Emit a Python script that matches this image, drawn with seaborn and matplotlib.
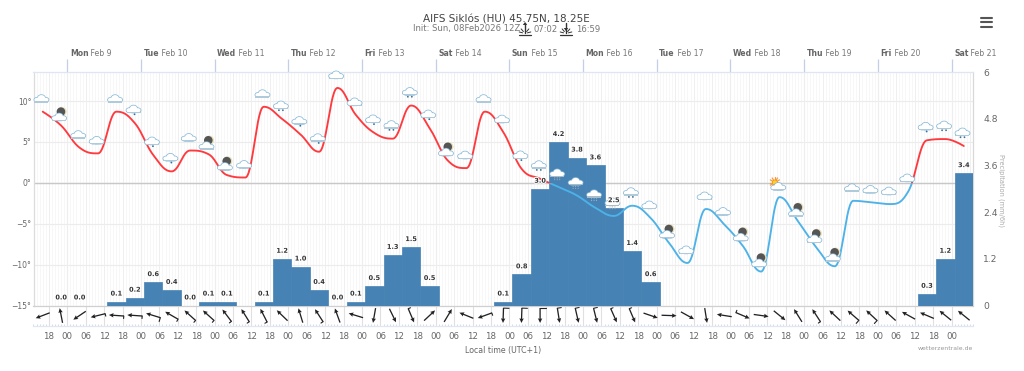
import matplotlib

matplotlib.use("Agg")
import matplotlib.patheffects as pe
import matplotlib.pyplot as plt
import numpy as np
import pandas as pd
import seaborn as sns
from matplotlib.lines import Line2D
from matplotlib.patches import Circle, Ellipse, Rectangle
from matplotlib.ticker import FixedLocator
from matplotlib.transforms import IdentityTransform

W, H = 1024, 371

# all series run 6-hourly, first value Feb 8 16:00 local (hours from Feb 9 00:00)
first_hour = -8
step_hours = 6

temps = [
    8.7, 7.0, 4.3, 3.6, 8.7, 7.3, 3.4, 1.4, 3.95, 3.5, 0.95, 0.65, 9.3,
    7.8, 5.9, 3.8, 11.6, 8.3, 6.1, 5.4, 9.45, 6.7, 2.7, 1.8, 8.7, 6.2,
    1.7, 0.5, -0.5, -1.55, -3.05, -4.05, -2.8, -4.3, -7.35, -9.8, -3.2,
    -5.1, -7.7, -10.85, -1.75, -4.7, -7.9, -10.2, -2.2, -2.4, -2.6, -1.0,
    5.2, 5.35, 4.5,
]
precip = [
    None, 0.0, 0.0, None, 0.1, 0.2, 0.6, 0.4, 0.0, 0.1, 0.1, None, 0.1,
    1.2, 1.0, 0.4, 0.0, 0.1, 0.5, 1.3, 1.5, 0.5, None, None, None, 0.1,
    0.8, 3.0, 4.2, 3.8, 3.6, 2.5, 1.4, 0.6, None, None, None, None, None,
    None, None, None, None, None, None, None, None, None, 0.3, 1.2, 3.4,
]
symbols = [
    "c", "m", "c", "c", "c", "r", "r", "r", "c", "m", "m", "c", "c",
    "d", "r", "r", "c", "c", "r", "d", "d", "r", "m", "c", "c", "c",
    "r", "d", "s", "s", "s", "s", "d", "c", "m", "c", "c", "c", "m",
    "m", "u", "m", "m", "m", "c", "c", "c", "c", "r", "d", "d",
]
# direction the wind arrow points, degrees counter clockwise from east
wind_dir = [
    201, 101, 214, 194, 176, 176, 163, 150, 138, 138, 127, 122, 117,
    136, 107, 123, 110, 163, 260, 296, 293, 43, 59, 158, 200, 268,
    268, 270, 279, 283, 284, 294, 293, 341, 358, 331, 279, 171, 337,
    352, 321, 122, 123, 137, 139, 137, 138, 151, 157, 141, 141,
]
wind_barb = [
    0, 0, 0, 1, 1, 1, 2, 1, 1, 1, 1, 1, 1,
    0, 0, 1, 0, 0, 0, 0, 1, 0, 0, 0, 1, 3,
    3, 3, 2, 2, 2, 1, 1, 0, 0, 0, 0, 0, 1,
    0, 0, 0, 1, 0, 2, 2, 0, 0, 0, 0, 0,
]
temp_ticks = [-15, -10, -5, 0, 5, 10]
precip_ticks = [0, 1.2, 2.4, 3.6, 4.8, 6]
day_names = ["Mon", "Tue", "Wed", "Thu", "Fri", "Sat", "Sun", "Mon", "Tue", "Wed", "Thu", "Fri", "Sat"]
day_dates = ["Feb 9", "Feb 10", "Feb 11", "Feb 12", "Feb 13", "Feb 14", "Feb 15",
             "Feb 16", "Feb 17", "Feb 18", "Feb 19", "Feb 20", "Feb 21"]

GRAY = "#666666"
ident = IdentityTransform()


def spline(x, y, n=30):
    # same control points as a highcharts spline, so peaks stay flat
    x, y = np.asarray(x, float), np.asarray(y, float)
    lc, rc = y.copy(), y.copy()
    lx, rx = x.copy(), x.copy()
    for i in range(1, len(x) - 1):
        lx[i] = (1.5 * x[i] + x[i - 1]) / 2.5
        rx[i] = (1.5 * x[i] + x[i + 1]) / 2.5
        a = (1.5 * y[i] + y[i - 1]) / 2.5
        b = (1.5 * y[i] + y[i + 1]) / 2.5
        corr = (b - a) * (rx[i] - x[i]) / (rx[i] - lx[i]) + y[i] - b
        a, b = a + corr, b + corr
        if a > y[i - 1] and a > y[i]:
            a = max(y[i - 1], y[i])
            b = 2 * y[i] - a
        elif a < y[i - 1] and a < y[i]:
            a = min(y[i - 1], y[i])
            b = 2 * y[i] - a
        if b > y[i + 1] and b > y[i]:
            b = max(y[i + 1], y[i])
            a = 2 * y[i] - b
        elif b < y[i + 1] and b < y[i]:
            b = min(y[i + 1], y[i])
            a = 2 * y[i] - b
        lc[i], rc[i] = a, b
    u = np.linspace(0, 1, n, endpoint=False)[:, None]
    xs, ys = [], []
    for i in range(len(x) - 1):
        c = (1 - u) ** 3, 3 * u * (1 - u) ** 2, 3 * u**2 * (1 - u), u**3
        xs.append(c[0] * x[i] + c[1] * rx[i] + c[2] * lx[i + 1] + c[3] * x[i + 1])
        ys.append(c[0] * y[i] + c[1] * rc[i] + c[2] * lc[i + 1] + c[3] * y[i + 1])
    return np.append(np.concatenate(xs), x[-1]), np.append(np.concatenate(ys), y[-1])


def px_patch(ax, patch, z=6):
    patch.set_transform(ident)
    patch.set_clip_on(False)
    patch.set_zorder(z)
    ax.add_artist(patch)


def draw_cloud(ax, x, y, dark=False):
    edge = "#86b8d6"
    parts = [(-4, -1.1, 6.2, 4.2), (4, -1.1, 6.2, 4.2), (0, 0.6, 7.4, 6), (0, -1.9, 13, 3.1)]
    for grow, color, z in [(1.5, edge, 6), (0, "white", 6.1)]:
        for dx, dy, w, h in parts:
            px_patch(ax, Ellipse((x + dx, y + dy), w + grow, h + grow, fc=color, ec="none"), z)
    px_patch(ax, Rectangle((x - 7, y - 3.9), 14, 1.3, fc="#a9bcc9" if dark else "#aecadb", ec="none"), 6.2)


def draw_symbol(ax, kind, x, y):
    # x, y is the data point in pixels, icon sits above it
    cx, cy = x - 1.3, y + 13
    if kind == "m":
        px_patch(ax, Circle((x + 0.7, y + 13.9), 4.8, fc="#e8e2c0", ec="none"), 5.8)
        px_patch(ax, Circle((x - 0.2, y + 13.9), 4.3, fc="#555555", ec="none"), 5.9)
        draw_cloud(ax, x - 2, y + 8.5)
    elif kind == "u":
        for a in np.arange(0, 360, 30):
            r = np.deg2rad(a)
            ax.add_artist(Line2D([x - 4.7, x - 4.7 + 5.3 * np.cos(r)], [y + 14.6, y + 14.6 + 5.3 * np.sin(r)],
                                 color="#f59a4a", lw=0.9, transform=ident, zorder=5.7, clip_on=False))
        px_patch(ax, Circle((x - 4.7, y + 14.6), 2.6, fc="#ffd21f", ec="#f58a1f", lw=0.5), 5.8)
        draw_cloud(ax, x - 1.3, y + 10.6)
    else:
        if kind in "rds":
            cy += 1
        draw_cloud(ax, cx, cy, dark=kind == "s")
        if kind == "r":
            px_patch(ax, Circle((cx + 1, cy - 5.2), 0.9, fc="#2f6f9f", ec="none"))
        elif kind == "d":
            for dx in (-2.0, 2.0):
                px_patch(ax, Circle((cx + dx, cy - 5.2), 0.9, fc="#46708f", ec="none"))
        elif kind == "s":
            for dx in (-2.5, 0, 2.5):
                for dy in (-5, -6.8):
                    px_patch(ax, Circle((cx + dx, cy + dy), 0.55, fc="#a8b4bc", ec="none"))


def sun_icon(fig, x, y, up=True):
    y = H - y
    color = "#333333"

    def seg(xs, ys, lw=0.7):
        fig.add_artist(Line2D(xs, ys, color=color, lw=lw, transform=ident))

    seg([x - 6, x + 6], [y - 6, y - 6], 0.9)
    for a in (15, 50, 130, 165):
        r = np.deg2rad(a)
        seg([x + 2.5 * np.cos(r), x + 6 * np.cos(r)], [y - 4.5 + 2.5 * np.sin(r), y - 4.5 + 6 * np.sin(r)])
    seg([x, x], [y - 4, y + 6], 1.0)
    tip = y + 7 if up else y - 2
    base = tip - 3 if up else tip + 3
    fig.add_artist(plt.Polygon([[x - 2.2, base], [x + 2.2, base], [x, tip]], fc=color, ec="none", transform=ident))


sns.set_theme(style="white")
plt.rcParams["font.family"] = ["DejaVu Sans"]

hours = first_hour + step_hours * np.arange(len(temps))
df = pd.DataFrame({"hour": hours, "temp": temps, "precip": precip})
bars = df.dropna(subset=["precip"])

fig = plt.figure(figsize=(W / 100, H / 100), dpi=100, facecolor="white")
left, right, top, bottom = 33.5, 973, 72, 305.5
rect = [left / W, 1 - bottom / H, (right - left) / W, (bottom - top) / H]
ax_t = fig.add_axes(rect)
ax_p = ax_t.twinx()
ax_l = ax_t.twinx()
ax_p.patch.set_visible(False)
ax_l.patch.set_visible(False)
ax_t.set_zorder(1)
ax_p.set_zorder(2)
ax_l.set_zorder(3)

xlim = (-11, 295)
ylim = (-15, 13.55)

# bars on the precipitation scale
sns.barplot(data=bars, x="hour", y="precip", native_scale=True, orient="x", width=1,
            color="#4682b4", saturation=1, edgecolor="#4682b4", linewidth=0.5,
            errorbar=None, ax=ax_p)
ax_p.set_xlim(xlim)
ax_p.set_ylim(0, 6)
ax_p.set_xlabel("")
ax_p.set_ylabel("")
ax_p.set_yticks(precip_ticks)
ax_p.set_yticklabels(["0", "1.2", "2.4", "3.6", "4.8", "6"])
ax_p.tick_params(axis="y", right=False, left=False, labelright=True, labelleft=False, length=0,
                 labelsize=6.6, labelcolor=GRAY, pad=7.5)

# temperature curve, red above 0 and blue below
cx, cy = spline(df["hour"], df["temp"])
ax_l.set_xlim(xlim)
ax_l.set_ylim(ylim)
for color, y0, y1 in [("#ff3a3f", 0, ylim[1]), ("#4db2e8", ylim[0], 0)]:
    sns.lineplot(x=cx, y=cy, color=color, lw=1.35, errorbar=None, estimator=None, ax=ax_l)
    clip = Rectangle((xlim[0], y0), xlim[1] - xlim[0], y1 - y0, transform=ax_l.transData)
    ax_l.lines[-1].set_clip_path(clip)
ax_l.set_xlim(xlim)
ax_l.set_ylim(ylim)
ax_l.set_yticks([])
ax_l.set_ylabel("")
ax_l.set_xlabel("")

# bar labels sit over the curve and the icons, so they go on the top axes
for h_, v in zip(bars["hour"], bars["precip"]):
    ax_l.annotate(f"{v:.1f}", (h_, v), xycoords=ax_p.transData, xytext=(0, 5.8), textcoords="offset points",
                  ha="center", va="center", fontsize=4.7, fontweight="bold", color="#333333",
                  path_effects=[pe.withStroke(linewidth=1.4, foreground="white")], zorder=7)

# temperature axis and grid, done last because the twins share the x ticks
ax_t.set_xlim(xlim)
ax_t.set_ylim(ylim)
ax_t.set_yticks(temp_ticks)
ax_t.set_yticklabels([f"{v}°".replace("-", "\u2212") for v in temp_ticks])
ax_t.tick_params(axis="y", left=False, length=0, labelsize=5.5, labelcolor=GRAY, pad=1.5)
ax_t.grid(axis="y", color="#ececec", lw=0.8)
ax_t.axhline(0, color="#c8c8c8", lw=1.0, zorder=1.5)
ax_t.xaxis.set_major_locator(FixedLocator(np.arange(0, 295, 24)))
ax_t.xaxis.set_minor_locator(FixedLocator(np.arange(-11, 296, 1)))
ax_t.xaxis.set_ticks_position("top")
ax_t.tick_params(axis="x", which="major", top=True, bottom=False, labeltop=False, labelbottom=False,
                 length=9.4, color="#c3cfe6", width=0.9)
ax_t.tick_params(axis="x", which="minor", top=False, bottom=False)
ax_t.grid(axis="x", which="major", color="#e3e8f1", lw=0.8)
ax_t.grid(axis="x", which="minor", color="#f6f6f6", lw=0.6)
for h_ in np.arange(-6, 295, 6):
    ax_t.axvline(h_, color="#efefef", lw=0.7, zorder=0.6)
for ax in (ax_t, ax_p, ax_l):
    for s in ax.spines.values():
        s.set_visible(False)
ax_t.spines["top"].set_visible(True)
ax_t.spines["top"].set_color("#dfe6f2")
ax_t.spines["left"].set_visible(True)
ax_t.spines["left"].set_color("#dcdcdc")
ax_t.spines["right"].set_visible(True)
ax_t.spines["right"].set_color("#d8d8d8")
ax_t.spines["bottom"].set_visible(True)
ax_t.spines["bottom"].set_color("#d0d0d0")
for s in ax_t.spines.values():
    s.set_linewidth(0.9)

for h_, t, s in zip(hours, temps, symbols):
    x, y = ax_l.transData.transform((h_, t))
    draw_symbol(ax_l, s, x, y)

# wind strip, y in pixels
ax_w = fig.add_axes([left / W, 1 - 326 / H, (right - left) / W, 20.5 / H])
ax_w.set_xlim(xlim)
ax_w.set_ylim(0, 20.5)
ax_w.patch.set_visible(False)
rad = np.deg2rad(wind_dir)
ax_w.quiver(hours, np.full(len(hours), 10.5), np.cos(rad), np.sin(rad), angles="uv", scale_units="dots", scale=1 / 15,
            units="dots", width=1.3, headwidth=3.4, headlength=3.6, headaxislength=3.2, pivot="mid", color="#222222", zorder=3)
xpx = (right - left) / (xlim[1] - xlim[0])
for h_, a, b in zip(hours, rad, wind_barb):
    if b == 0:
        continue
    tail_x, tail_y = -7.4 * np.cos(a), -7.4 * np.sin(a)
    fx, fy = np.cos(a + np.pi / 2), np.sin(a + np.pi / 2)
    ln = {1: 2.5, 2: 4.0, 3: 5.5}[b]
    ax_w.plot([h_ + tail_x / xpx, h_ + (tail_x + ln * fx) / xpx], [10.5 + tail_y, 10.5 + tail_y + ln * fy],
              color="#222222", lw=0.8, zorder=3)
tick_hours = np.arange(-6, 289, 6)
ax_w.set_xticks(tick_hours)
ax_w.set_xticklabels([f"{h_ % 24:02d}" for h_ in tick_hours])
ax_w.xaxis.set_minor_locator(FixedLocator(np.arange(-11, 296, 1)))
ax_w.set_yticks([])
ax_w.grid(axis="x", which="major", color="#e0e0e0", lw=0.8)
ax_w.tick_params(axis="x", which="major", length=0, labelsize=6.2, labelcolor=GRAY, pad=4.5)
ax_w.tick_params(axis="x", which="minor", length=1.5, width=0.7, color="#d4dcea", direction="in", bottom=True)
for s in ax_w.spines.values():
    s.set_visible(False)
ax_w.spines["bottom"].set_visible(True)
ax_w.spines["bottom"].set_color("#e0e6f2")
ax_w.spines["bottom"].set_linewidth(0.9)

# day labels above the top ticks
for i, (n, d) in enumerate(zip(day_names, day_dates)):
    t_ = ax_t.annotate(n, (24 * i, ylim[1]), xytext=(1.8, 13.2), textcoords="offset points", ha="left", va="center",
                       fontsize=5.6, fontweight="bold", color=GRAY, annotation_clip=False)
    ax_t.annotate(" " + d, xy=(1, 0.5), xycoords=t_, ha="left", va="center", fontsize=5.6, color="#777777")

fig.text(506 / W, 1 - 19 / H, "AIFS Siklós (HU) 45.75N, 18.25E", ha="center", va="center", fontsize=7.5, color="#444444")
fig.text(413 / W, 1 - 29 / H, "Init: Sun, 08Feb2026 12Z", ha="left", va="center", fontsize=6.1, color="#777777")
fig.text(534 / W, 1 - 29 / H, "07:02", ha="left", va="center", fontsize=6.1, color="#777777")
fig.text(576 / W, 1 - 29 / H, "16:59", ha="left", va="center", fontsize=6.1, color="#777777")
sun_icon(fig, 525, 29, up=True)
sun_icon(fig, 566, 29, up=False)
for y_ in (17.5, 22, 26.5):
    fig.add_artist(Line2D([981, 992], [H - y_, H - y_], color="#555555", lw=1.5, transform=ident))
fig.text(503 / W, 1 - 350.5 / H, "Local time (UTC+1)", ha="center", va="center", fontsize=5.7, color=GRAY)
fig.text(973 / W, 1 - 348.5 / H, "wetterzentrale.de", ha="right", va="center", fontsize=4.4, color="#999999")
fig.text(1001 / W, 1 - 190 / H, "Precipitation (mm/6h)", rotation=270, ha="center", va="center", fontsize=4.8, color="#aaaaaa")

fig.savefig("out.png", dpi=100)
